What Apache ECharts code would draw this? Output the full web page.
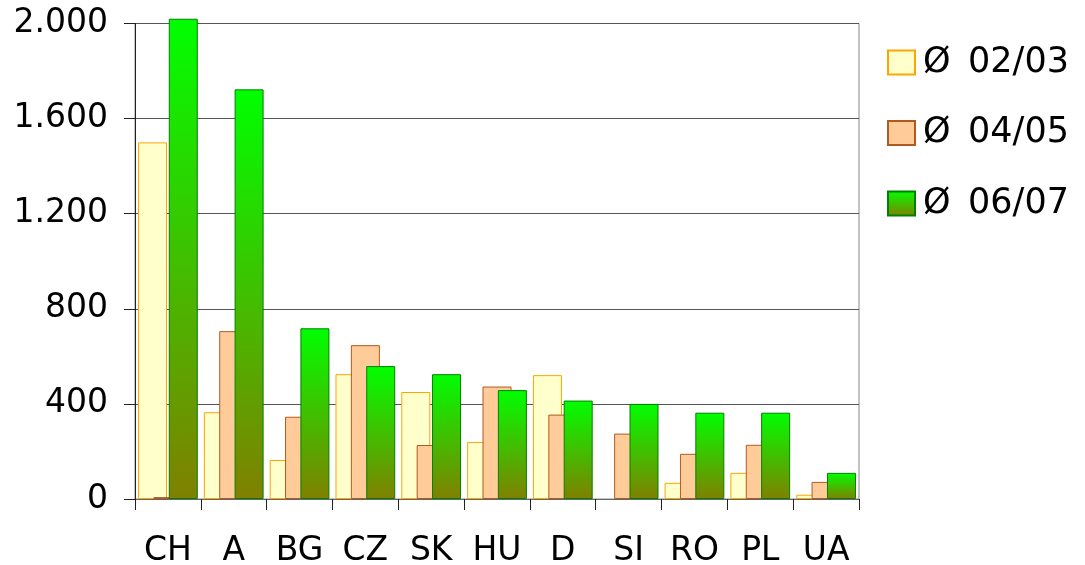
<!DOCTYPE html>
<html>
<head>
<meta charset="utf-8">
<script src="https://cdn.jsdelivr.net/npm/echarts@6/dist/echarts.min.js"></script>
<style>html,body{margin:0;padding:0;background:#fff}#c{width:1085px;height:565px}</style>
</head>
<body>
<div id="c"></div>
<script>
const categories = ['CH','A','BG','CZ','SK','HU','D','SI','RO','PL','UA'];
const seriesNames = ['Ø 02/03','Ø 04/05','Ø 06/07'];
const v0203 = [1500, 365, 164, 525, 450, 240, 521, null, 68, 110, 18];
const v0405 = [8, 706, 346, 647, 227, 473, 355, 275, 190, 228, 72];
const v0607 = [2020, 1723, 718, 559, 525, 458, 414, 400, 363, 363, 110];
const yTicks = [0, 400, 800, 1200, 1600, 2000];

const FONT = 'DejaVu Sans';
const chart = echarts.init(document.getElementById('c'), null, {renderer:'canvas'});
const barCommon = {type:'bar', barWidth:29, barGap:'-47%', clip:false};
chart.setOption({
  animation:false,
  backgroundColor:'#fff',
  textStyle:{fontFamily:FONT},
  grid:{left:135, right:226, top:23.5, bottom:66, show:true, borderColor:'#888', borderWidth:1,
        containLabel:false, outerBoundsMode:'none'},
  legend:{
    orient:'vertical', left:887, top:45, padding:0, icon:'rect',
    itemWidth:27, itemHeight:24, itemGap:35.5,
    formatter:n=>n.replace(' ','\u2002'),
    textStyle:{fontFamily:FONT, fontSize:35, color:'#000', padding:[0,0,0,3]},
    data:seriesNames
  },
  xAxis:{
    type:'category', data:categories,
    axisLine:{lineStyle:{color:'#666', width:1}},
    axisTick:{show:true, length:11, lineStyle:{color:'#222'}},
    axisLabel:{fontFamily:FONT, fontSize:33, color:'#000', margin:36}
  },
  yAxis:{
    type:'value', min:yTicks[0], max:yTicks[yTicks.length-1], interval:400,
    axisLine:{show:true, lineStyle:{color:'#222'}},
    axisTick:{show:true, length:11, lineStyle:{color:'#222'}},
    splitLine:{lineStyle:{color:'#555'}},
    axisLabel:{fontFamily:FONT, fontSize:33, color:'#000', margin:27,
      formatter:v=>String(v).replace(/\B(?=(\d{3})+(?!\d))/g,'.')}
  },
  series:[
    Object.assign({name:seriesNames[0], data:v0203,
      itemStyle:{color:'#FFFFCC', borderColor:'#FFA500', borderWidth:1}}, barCommon),
    Object.assign({name:seriesNames[1], data:v0405,
      itemStyle:{color:'#FFCC99', borderColor:'#B05A20', borderWidth:1}}, barCommon),
    Object.assign({name:seriesNames[2], data:v0607,
      itemStyle:{color:new echarts.graphic.LinearGradient(0,0,0,1,[
        {offset:0,color:'#00FF00'},{offset:1,color:'#808000'}]),
        borderColor:'#008000', borderWidth:1}}, barCommon)
  ]
});
</script>
</body>
</html>
